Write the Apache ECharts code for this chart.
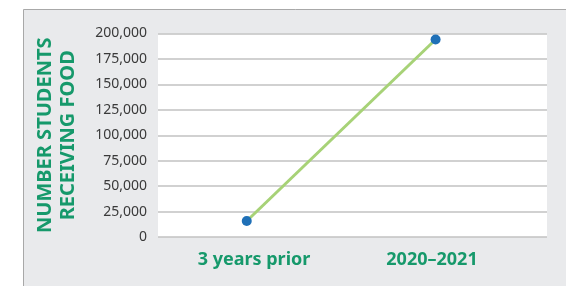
<!DOCTYPE html>
<html>
<head>
<meta charset="utf-8">
<script src="https://cdn.jsdelivr.net/npm/echarts@6/dist/echarts.min.js"></script>
<style>
  html, body { margin: 0; padding: 0; background: #fff; }
  #chart { width: 566px; height: 286px; }
</style>
</head>
<body>
<div id="chart"></div>
<script>
const categories = ['3 years prior', '2020–2021']
const students = [15700, 194100]
const yTicks = { min: 0, max: 200000, step: 25000 }

const green = '#16996b'
const chart = echarts.init(document.getElementById('chart'), null, { renderer: 'canvas' })

// line positions sit slightly off the label centres in the source, so the
// line uses a hidden value axis and the labels their own category axis
const points = students.map((v, i) => [i, v])

chart.setOption({
  animation: false,
  graphic: [{
    type: 'rect',
    z: -10,
    shape: { x: 23.5, y: 9.5, width: 600, height: 300 },
    style: { fill: '#e9eaec', stroke: '#a8a8a8', lineWidth: 1 }
  }],
  grid: [
    { left: 158, right: 19, top: 33.5, bottom: 49, show: true, backgroundColor: '#fff', borderWidth: 0 },
    { left: 165, width: 356, top: 33.5, bottom: 49 }
  ],
  xAxis: [
    { type: 'value', gridIndex: 0, min: -0.47, max: 1.59, show: false },
    {
      type: 'category',
      gridIndex: 1,
      data: categories,
      boundaryGap: true,
      axisLine: { show: false },
      axisTick: { show: false },
      axisLabel: { color: green, fontFamily: 'Noto Sans', fontWeight: 'bold', fontSize: 18, margin: 14 }
    }
  ],
  yAxis: [
    {
      type: 'value',
      gridIndex: 0,
      min: yTicks.min,
      max: yTicks.max,
      interval: yTicks.step,
      axisLine: { show: false },
      axisTick: { show: false },
      splitLine: { lineStyle: { color: '#c2c2c2', width: 1.5 } },
      axisLabel: {
        color: '#3a3a3a',
        fontFamily: 'Noto Sans',
        fontSize: 14,
        margin: 11,
        formatter: v => v.toLocaleString('en-US')
      },
      name: 'NUMBER STUDENTS\nRECEIVING FOOD',
      nameLocation: 'middle',
      nameGap: 78,
      nameTextStyle: { color: green, fontFamily: 'Noto Sans', fontWeight: 'bold', fontSize: 20, lineHeight: 23 }
    },
    { type: 'value', gridIndex: 1, min: yTicks.min, max: yTicks.max, show: false }
  ],
  series: [{
    type: 'line',
    xAxisIndex: 0,
    yAxisIndex: 0,
    data: points,
    symbol: 'circle',
    symbolSize: 10,
    lineStyle: { color: '#a7d277', width: 3 },
    itemStyle: { color: '#1f70b7' }
  }]
})
</script>
</body>
</html>
